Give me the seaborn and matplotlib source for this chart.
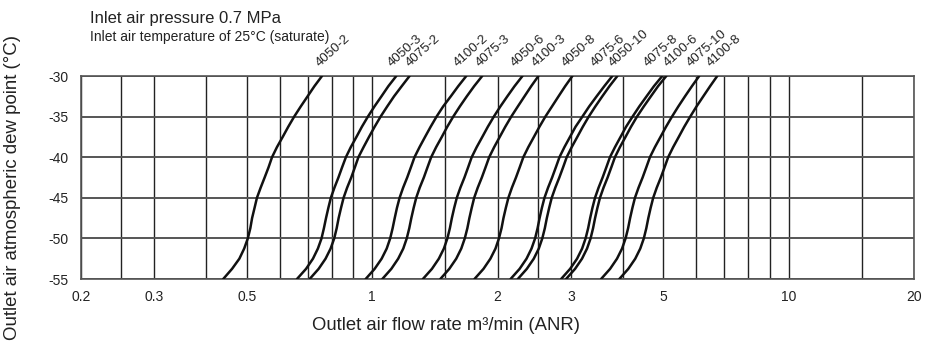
import pandas as pd
import matplotlib.pyplot as plt
import seaborn as sns
from matplotlib import font_manager
from matplotlib.ticker import NullFormatter

# dew point levels (y) shared by every curve
dew_points = [-55, -53.75, -52.5, -51.25, -50, -48.75, -47.5, -46.25, -45, -43.75, -42.5,
              -41.25, -40, -38.75, -37.5, -36.25, -35, -33.75, -32.5, -31.25, -30]

models = ["4050-2", "4050-3", "4075-2", "4100-2", "4075-3", "4050-6", "4100-3",
          "4050-8", "4075-6", "4050-10", "4075-8", "4100-6", "4075-10", "4100-8"]

# outlet flow rate (m3/min) read at each dew point level
flow_4050_2 = [0.439, 0.461, 0.480, 0.493, 0.503, 0.510, 0.515, 0.522, 0.529, 0.540, 0.552,
               0.564, 0.575, 0.591, 0.610, 0.629, 0.650, 0.674, 0.700, 0.727, 0.758]
flow_4050_3 = [0.660, 0.694, 0.721, 0.741, 0.756, 0.766, 0.775, 0.785, 0.796, 0.812, 0.830,
               0.847, 0.865, 0.889, 0.917, 0.945, 0.977, 1.013, 1.053, 1.094, 1.143]
flow_4075_2 = [0.708, 0.744, 0.773, 0.795, 0.811, 0.822, 0.831, 0.842, 0.854, 0.871, 0.891,
               0.909, 0.927, 0.954, 0.983, 1.014, 1.048, 1.087, 1.129, 1.178, 1.230]
flow_4100_2 = [0.965, 1.014, 1.054, 1.084, 1.105, 1.120, 1.133, 1.147, 1.164, 1.187, 1.214,
               1.239, 1.264, 1.300, 1.340, 1.382, 1.428, 1.481, 1.545, 1.610, 1.683]
flow_4075_3 = [1.058, 1.112, 1.155, 1.188, 1.211, 1.228, 1.242, 1.258, 1.276, 1.301, 1.331,
               1.358, 1.386, 1.425, 1.470, 1.515, 1.566, 1.624, 1.688, 1.758, 1.838]
flow_4050_6 = [1.324, 1.392, 1.446, 1.487, 1.516, 1.537, 1.554, 1.574, 1.597, 1.629, 1.666,
               1.700, 1.734, 1.783, 1.839, 1.896, 1.960, 2.032, 2.112, 2.198, 2.296]
flow_4100_3 = [1.458, 1.532, 1.592, 1.637, 1.669, 1.693, 1.712, 1.734, 1.758, 1.793, 1.834,
               1.872, 1.910, 1.964, 2.025, 2.088, 2.158, 2.238, 2.322, 2.410, 2.508]
flow_4050_8 = [1.761, 1.851, 1.923, 1.978, 2.016, 2.045, 2.067, 2.094, 2.124, 2.166, 2.215,
               2.261, 2.307, 2.372, 2.446, 2.522, 2.606, 2.703, 2.803, 2.908, 3.026]
flow_4075_6 = [2.150, 2.260, 2.348, 2.414, 2.462, 2.496, 2.524, 2.556, 2.593, 2.645, 2.705,
               2.761, 2.817, 2.896, 2.986, 3.079, 3.198, 3.320, 3.460, 3.610, 3.774]
flow_4050_10 = [2.238, 2.352, 2.444, 2.513, 2.562, 2.598, 2.627, 2.661, 2.699, 2.753, 2.815,
                2.874, 2.932, 3.015, 3.109, 3.205, 3.312, 3.435, 3.570, 3.715, 3.880]
flow_4075_8 = [2.843, 2.988, 3.105, 3.193, 3.255, 3.301, 3.338, 3.380, 3.429, 3.497, 3.576,
               3.650, 3.724, 3.830, 3.949, 4.071, 4.220, 4.380, 4.560, 4.750, 4.974]
flow_4100_6 = [2.922, 3.071, 3.191, 3.281, 3.346, 3.392, 3.430, 3.474, 3.524, 3.594, 3.676,
               3.752, 3.828, 3.936, 4.059, 4.184, 4.325, 4.490, 4.670, 4.860, 5.086]
flow_4075_10 = [3.546, 3.727, 3.872, 3.982, 4.060, 4.117, 4.163, 4.216, 4.276, 4.362, 4.461,
                4.553, 4.645, 4.776, 4.925, 5.078, 5.248, 5.435, 5.640, 5.860, 6.100]
flow_4100_8 = [3.922, 4.122, 4.283, 4.404, 4.491, 4.553, 4.604, 4.663, 4.730, 4.824, 4.934,
               5.036, 5.138, 5.283, 5.448, 5.616, 5.805, 6.010, 6.240, 6.480, 6.740]

curves = [flow_4050_2, flow_4050_3, flow_4075_2, flow_4100_2, flow_4075_3, flow_4050_6,
          flow_4100_3, flow_4050_8, flow_4075_6, flow_4050_10, flow_4075_8, flow_4100_6,
          flow_4075_10, flow_4100_8]

# where each model label starts above the frame (flow-rate units)
label_pos = [0.748, 1.112, 1.230, 1.606, 1.811, 2.197, 2.476, 2.922, 3.418, 3.780,
             4.588, 5.120, 5.828, 6.51]

x_ticks = [0.2, 0.3, 0.5, 1, 2, 3, 5, 10, 20]
x_tick_labels = ["0.2", "0.3", "0.5", "1", "2", "3", "5", "10", "20"]
x_grid = [0.25, 0.4, 0.6, 0.7, 0.8, 0.9, 1.5, 2.5, 4, 6, 7, 8, 9, 15]
y_ticks = [-55, -50, -45, -40, -35, -30]

rows = []
for m, flows in zip(models, curves):
    for f, d in zip(flows, dew_points):
        rows.append({"model": m, "flow": f, "dew": d})
df = pd.DataFrame(rows)

sns.set_theme(style="white")
plt.rcParams["font.family"] = ["Liberation Sans", "DejaVu Sans"]
names = {f.name for f in font_manager.fontManager.ttflist}
narrow = "Liberation Sans Narrow" if "Liberation Sans Narrow" in names else "Liberation Sans"

fig = plt.figure(figsize=(9.26, 3.54), dpi=100)
ax = fig.add_axes([81 / 926, 1 - 279 / 354, (914 - 81) / 926, (279 - 76) / 354])

sns.lineplot(data=df, x="flow", y="dew", hue="model", units="model", estimator=None,
             sort=False, palette={m: "#111111" for m in models}, legend=False,
             linewidth=1.8, ax=ax, zorder=3)

ax.set_xscale("log")
ax.set_xlim(0.2, 20)
ax.set_ylim(-55, -30)
ax.set_xticks(x_ticks)
ax.set_xticklabels(x_tick_labels)
ax.set_xticks(x_grid, minor=True)
ax.xaxis.set_minor_formatter(NullFormatter())
ax.set_yticks(y_ticks)
ax.set_yticklabels([str(v) for v in y_ticks])
ax.tick_params(axis="both", which="both", length=0, labelsize=10, colors="#222222")
ax.tick_params(axis="x", pad=8)
ax.tick_params(axis="y", pad=9)
ax.grid(True, axis="x", which="both", color="#222222", linewidth=1.0)
ax.grid(True, axis="y", which="major", color="#555555", linewidth=1.4)
for s in ax.spines.values():
    s.set_color("#555555")
    s.set_linewidth(1.2)
ax.set_xlabel("")
ax.set_ylabel("")

for m, xp in zip(models, label_pos):
    ax.annotate(m, xy=(xp, 1), xycoords=("data", "axes fraction"),
                xytext=(0, 6.5), textcoords="offset points", rotation=42,
                rotation_mode="anchor", ha="left", va="baseline", fontsize=9.5,
                color="#222222")

fig.text(90 / 926, 1 - 18 / 354, "Inlet air pressure 0.7 MPa", fontsize=12,
         va="center", ha="left", color="#222222")
fig.text(90 / 926, 1 - 37 / 354, "Inlet air temperature of 25°C (saturate)", fontsize=10,
         family=narrow, va="center", ha="left", color="#222222")
fig.text(446 / 926, 1 - 325 / 354, "Outlet air flow rate m³/min (ANR)", fontsize=13.3,
         va="center", ha="center", color="#222222")
fig.text(13 / 926, 1 - 188 / 354, "Outlet air atmospheric dew point (°C)", fontsize=13.4,
         rotation=90, va="center", ha="center", color="#222222")

fig.savefig("out.png", dpi=100)
